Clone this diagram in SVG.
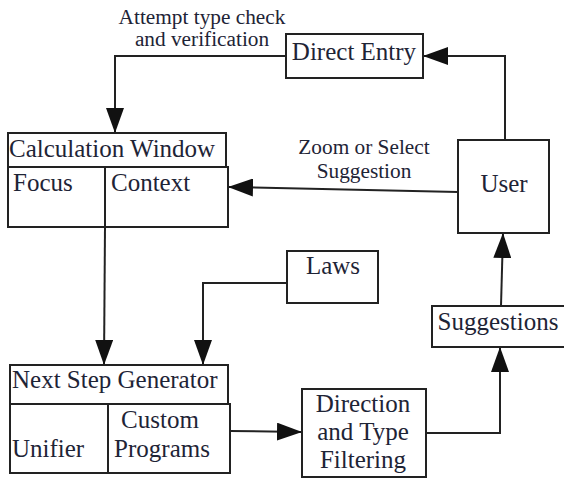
<svg xmlns="http://www.w3.org/2000/svg" width="564" height="479" viewBox="0 0 564 479">
<defs>
<marker id="ah" markerUnits="userSpaceOnUse" markerWidth="26" markerHeight="18" refX="25" refY="9" orient="auto">
<path d="M0,0 L25,9 L0,18 z" fill="#111"/>
</marker>
<style>
.box{fill:#fff;stroke:#222;stroke-width:2}
.ln{fill:none;stroke:#222;stroke-width:2}
text{font-family:'Liberation Serif','DejaVu Serif',serif;fill:#1e2436}
.t{font-size:25px}
.lb{font-size:21.3px}
.c{text-anchor:middle}
</style>
</defs>
<rect width="564" height="479" fill="#fff"/>
<g id="connectors">
<path class="ln" d="M286,56 H115 V133" marker-end="url(#ah)"/>
<path class="ln" d="M505,140 V56 H423" marker-end="url(#ah)"/>
<path class="ln" d="M458,192 L228,187" marker-end="url(#ah)"/>
<path class="ln" d="M105,227 L104,365" marker-end="url(#ah)"/>
<path class="ln" d="M287,283 H203 V365" marker-end="url(#ah)"/>
<path class="ln" d="M230,431 L302,432" marker-end="url(#ah)"/>
<path class="ln" d="M426,433 H500 V347" marker-end="url(#ah)"/>
<path class="ln" d="M501,306 L503,233" marker-end="url(#ah)"/>
<text class="lb c" x="202" y="24">Attempt type check</text>
<text class="lb c" x="202" y="46">and verification</text>
<text class="lb c" x="364" y="154">Zoom or Select</text>
<text class="lb c" x="364" y="178">Suggestion</text>
</g>
<g id="calculation-window">
<rect class="box" x="8" y="133" width="218" height="34"/>
<rect class="box" x="8" y="167" width="220" height="60"/>
<line class="ln" x1="105" y1="167" x2="105" y2="227"/>
<text class="t" x="9" y="157">Calculation Window</text>
<text class="t" x="13" y="191">Focus</text>
<text class="t" x="111" y="191">Context</text>
</g>
<g id="direct-entry">
<rect class="box" x="286" y="34" width="137" height="44"/>
<text class="t c" x="354" y="60">Direct Entry</text>
</g>
<g id="user">
<rect class="box" x="458" y="140" width="91" height="93"/>
<text class="t c" x="504" y="192">User</text>
</g>
<g id="laws">
<rect class="box" x="287" y="251" width="91" height="52"/>
<text class="t c" x="333" y="274">Laws</text>
</g>
<g id="next-step-generator">
<rect class="box" x="10" y="365" width="218" height="39"/>
<rect class="box" x="10" y="404" width="220" height="69"/>
<line class="ln" x1="108" y1="404" x2="108" y2="473"/>
<text class="t" x="12" y="388">Next Step Generator</text>
<text class="t" x="12" y="457">Unifier</text>
<text class="t c" x="160" y="428">Custom</text>
<text class="t c" x="162" y="457">Programs</text>
</g>
<g id="suggestions">
<rect class="box" x="432" y="306" width="140" height="41"/>
<text class="t c" x="498" y="330">Suggestions</text>
</g>
<g id="direction-filtering">
<rect class="box" x="302" y="389" width="124" height="88"/>
<text class="t c" x="363" y="412">Direction</text>
<text class="t c" x="363" y="440">and Type</text>
<text class="t c" x="363" y="468">Filtering</text>
</g>
</svg>
